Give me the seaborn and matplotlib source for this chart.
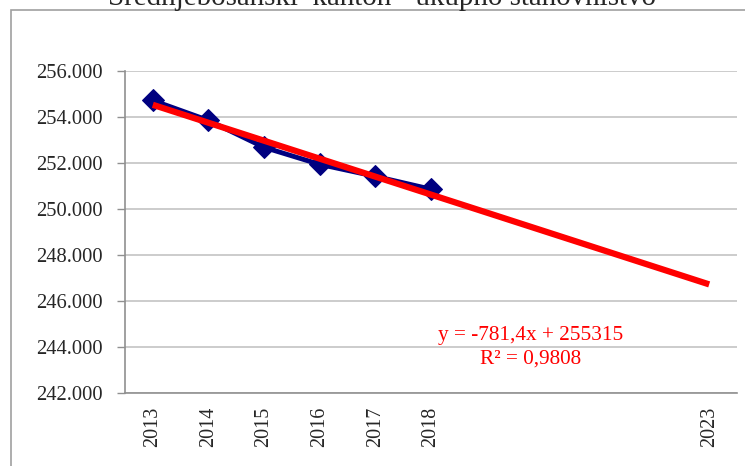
import numpy as np
import seaborn as sns
import matplotlib.pyplot as plt
from matplotlib.patches import Rectangle
from matplotlib.ticker import FuncFormatter

# Data
years = ['2013', '2014', '2015', '2016', '2017', '2018']
population = [254720, 253850, 252680, 251940, 251420, 250860]
axis_labels = ['2013', '2014', '2015', '2016', '2017', '2018', '', '', '', '', '2023']
title = "Srednjebosanski  kanton - ukupno stanovništvo"

sns.set_style('white')
plt.rcParams['font.family'] = ['Liberation Serif', 'DejaVu Serif']

fig = plt.figure(figsize=(7.45, 4.66), dpi=100)
ax = fig.add_axes([125 / 745, 1 - 393 / 466, 612 / 745, 322 / 466])

# chart border and (cut off) title, as in the reference
fig.patches.append(Rectangle((11 / 745, -0.1), 1.0, 1 - 10 / 466 + 0.1,
                             transform=fig.transFigure, fill=False,
                             edgecolor='#a0a0a0', linewidth=1.2))
fig.text(382 / 745, 1 - 5 / 466, title, ha='center', va='baseline', fontsize=20.9)

pos = np.arange(len(years))
sns.lineplot(x=pos, y=population, ax=ax, color='#000080', linewidth=3.5,
             marker='D', markersize=11, markeredgecolor='#000080')

# linear trend over all categories
xs = np.arange(1, len(axis_labels) + 1)
k, n = np.polyfit(pos + 1, population, 1)
ax.plot(xs - 1, k * xs + n, color='#ff0000', linewidth=4.5, solid_capstyle='butt')

ax.text(0.662, 0.143, 'y = -781,4x + 255315\nR² = 0,9808', transform=ax.transAxes,
        ha='center', va='center', color='#ff0000', fontsize=15.3, linespacing=1.3)

ax.set_xlim(-0.5, len(axis_labels) - 0.5)
ax.set_ylim(242000, 256000)
ax.set_yticks(np.arange(242000, 256001, 2000))
ax.yaxis.set_major_formatter(FuncFormatter(lambda v, p: f'{v:,.0f}'.replace(',', '.')))
ax.set_xticks(np.arange(len(axis_labels)))
ax.set_xticklabels(axis_labels, rotation=90, fontsize=14.5)
ax.set_xticks(np.arange(-0.5, len(axis_labels)), minor=True)
ax.tick_params(axis='x', which='major', length=0, pad=10)
ax.tick_params(axis='x', which='minor', length=7, color='#909090', width=1)
ax.tick_params(axis='y', length=6, color='#909090', width=1, labelsize=14.8, pad=10, left=True)

ax.grid(axis='y', color='#c8c8c8', linewidth=1.3)
ax.set_axisbelow(True)
for s in ['top', 'right']:
    ax.spines[s].set_visible(False)
for s in ['left', 'bottom']:
    ax.spines[s].set_color('#909090')
    ax.spines[s].set_linewidth(1.2)

fig.savefig('out.png', dpi=100)
